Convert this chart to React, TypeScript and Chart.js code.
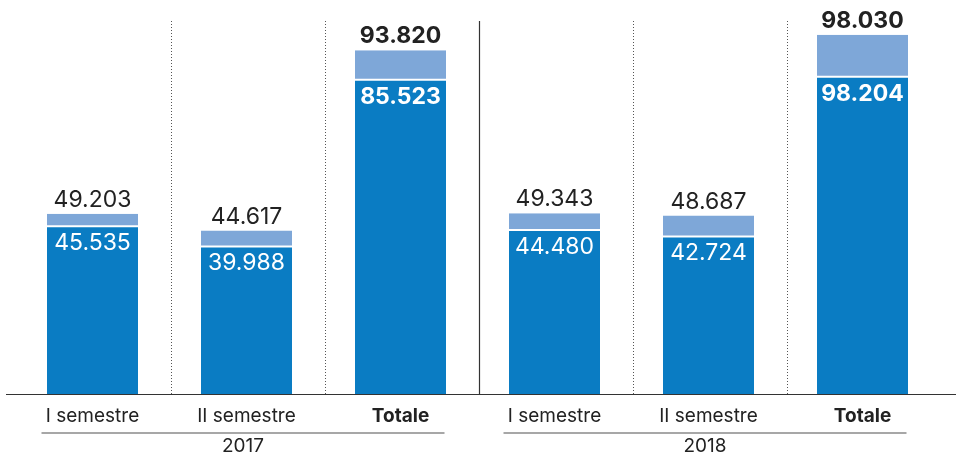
import React, { useEffect, useRef } from "react";
import { Chart, registerables } from "chart.js";

Chart.register(...registerables);

const categories = ["I semestre", "II semestre", "Totale", "I semestre", "II semestre", "Totale"];
const boldCategory = [false, false, true, false, false, true];
const years = ["2017", "2018"];
const groupSize = 3;
// bar heights (thousands)
const darkValues = [45.535, 39.988, 85.523, 44.48, 42.724, 86.3];
const totalValues = [49.203, 44.617, 93.82, 49.343, 48.687, 98.03];
// labels as printed
const darkLabels = ["45.535", "39.988", "85.523", "44.480", "42.724", "98.204"];
const totalLabels = ["49.203", "44.617", "93.820", "49.343", "48.687", "98.030"];

const DARK = "#0a7cc3";
const LIGHT = "#7ea7d8";
const TEXT = "#222222";
const FONT = "Inter, 'Liberation Sans', sans-serif";

export default function App() {
  const ref = useRef<HTMLCanvasElement | null>(null);

  useEffect(() => {
    const canvas = ref.current;
    if (!canvas) return;
    const lightValues = totalValues.map((t, i) => Math.max(0, t - darkValues[i]));

    const overlay = {
      id: "overlay",
      afterDatasetsDraw(chart: any) {
        const ctx = chart.ctx;
        const xs = chart.scales.x;
        const area = chart.chartArea;
        const darkMeta = chart.getDatasetMeta(0);
        const lightMeta = chart.getDatasetMeta(1);
        const centers = categories.map((_, i) => xs.getPixelForValue(i));
        ctx.save();
        // dividers
        for (let i = 0; i < centers.length - 1; i++) {
          const x = Math.round((centers[i] + centers[i + 1]) / 2) + 1.5;
          ctx.beginPath();
          if ((i + 1) % groupSize === 0) {
            ctx.setLineDash([]);
            ctx.strokeStyle = "#333333";
            ctx.lineWidth = 1.2;
          } else {
            ctx.setLineDash([1, 2]);
            ctx.strokeStyle = "#555555";
            ctx.lineWidth = 1;
          }
          ctx.moveTo(x, area.top);
          ctx.lineTo(x, area.bottom);
          ctx.stroke();
        }
        ctx.setLineDash([]);
        // baseline
        ctx.strokeStyle = "#333333";
        ctx.lineWidth = 1.2;
        ctx.beginPath();
        ctx.moveTo(6, area.bottom + 0.5);
        ctx.lineTo(chart.width, area.bottom + 0.5);
        ctx.stroke();

        // value labels
        ctx.textAlign = "center";
        ctx.textBaseline = "alphabetic";
        categories.forEach((_, i) => {
          const bold = boldCategory[i];
          const darkEl = darkMeta.data[i];
          const lightEl = lightMeta.data[i];
          ctx.font = `${bold ? "bold " : ""}23px ${FONT}`;
          ctx.fillStyle = TEXT;
          ctx.fillText(totalLabels[i], lightEl.x, lightEl.y - 7);
          ctx.fillStyle = "#ffffff";
          ctx.fillText(darkLabels[i], darkEl.x, darkEl.y + 23);
        });

        // category labels
        categories.forEach((c, i) => {
          ctx.font = `${boldCategory[i] ? "bold " : ""}19px ${FONT}`;
          ctx.fillStyle = TEXT;
          ctx.fillText(c, centers[i], 422);
        });

        // group lines and year labels
        years.forEach((yr, g) => {
          const first = centers[g * groupSize];
          const last = centers[g * groupSize + groupSize - 1];
          const x0 = first - 51;
          const x1 = last + 44;
          ctx.strokeStyle = "#8a8a8a";
          ctx.lineWidth = 1.5;
          ctx.beginPath();
          ctx.moveTo(x0, 433);
          ctx.lineTo(x1, 433);
          ctx.stroke();
          ctx.font = `19px ${FONT}`;
          ctx.fillStyle = TEXT;
          ctx.fillText(yr, (x0 + x1) / 2, 452);
        });
        ctx.restore();
      },
    };

    const chart = new Chart(canvas, {
      type: "bar",
      data: {
        labels: categories,
        datasets: [
          {
            data: darkValues,
            backgroundColor: DARK,
            borderWidth: 0,
            barPercentage: 91 / 154,
            categoryPercentage: 1,
          },
          {
            data: lightValues,
            backgroundColor: LIGHT,
            borderColor: "#ffffff",
            borderWidth: { top: 0, left: 0, right: 0, bottom: 2 },
            borderSkipped: false,
            barPercentage: 91 / 154,
            categoryPercentage: 1,
          },
        ],
      },
      options: {
        responsive: false,
        animation: false,
        devicePixelRatio: 1,
        layout: { padding: { top: 21, bottom: 60, left: 15.5, right: 16.5 } },
        plugins: { legend: { display: false }, tooltip: { enabled: false } },
        scales: {
          x: { stacked: true, display: false },
          y: { stacked: true, display: false, min: 0, max: 101.8 },
        },
      },
      plugins: [overlay],
    });
    return () => chart.destroy();
  }, []);

  return (
    <div style={{ position: "absolute", left: 0, top: 0, width: 956, height: 454, background: "#ffffff" }}>
      <canvas ref={ref} width={956} height={454} style={{ display: "block" }} />
    </div>
  );
}
